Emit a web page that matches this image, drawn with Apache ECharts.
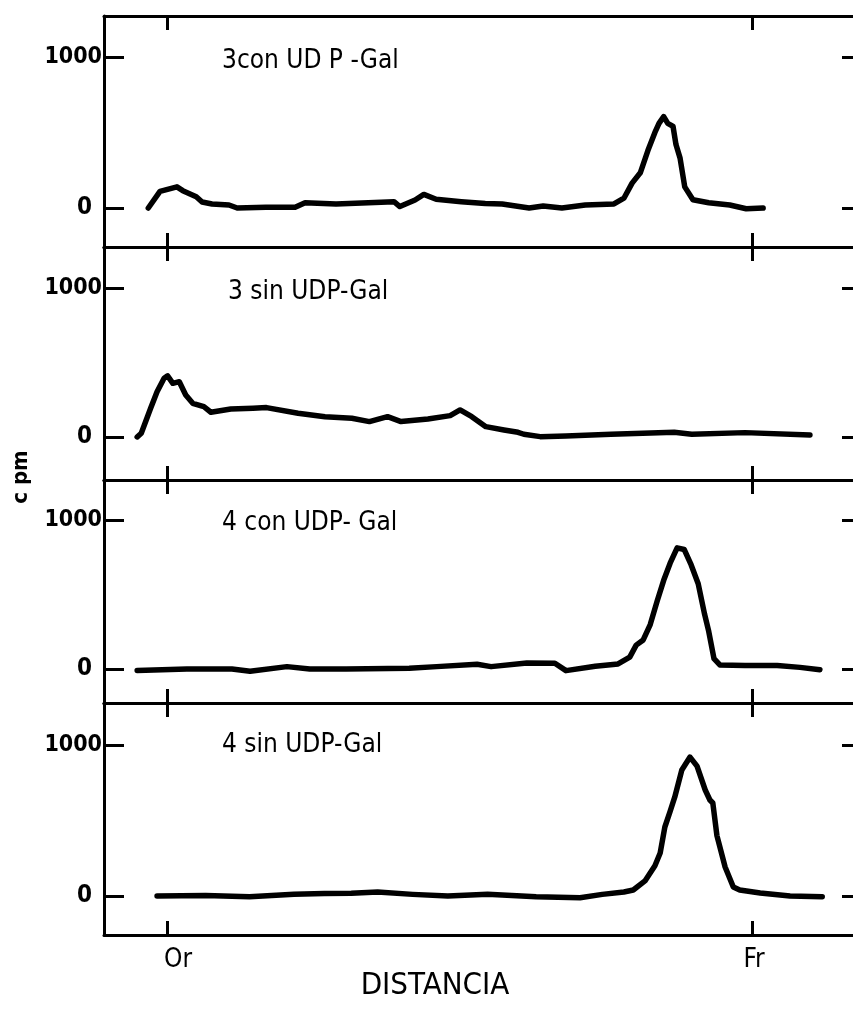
<!DOCTYPE html>
<html><head><meta charset="utf-8">
<script src="https://cdn.jsdelivr.net/npm/echarts@6/dist/echarts.min.js"></script>
<style>html,body{margin:0;padding:0;background:#fff}#c{width:853px;height:1015px}</style>
</head><body><div id="c"></div>
<script>
// ---- data (distance: Or = 0, Fr = 100; values in cpm) ----
const panelTitles = ['3con UD P -Gal', '3 sin UDP-Gal', '4 con UDP- Gal', '4 sin UDP-Gal'];
const xTickValues = [0, 100];
const xTickLabels = ['Or', 'Fr'];
const yTickValues = [0, 1000];
const yAxisName = 'c pm';
const xAxisName = 'DISTANCIA';

const dist1 = [-3.2,-1.2,1.7,2.7,5.0,6.0,7.7,10.6,12.0,16.9,21.9,23.6,28.9,38.8,39.8,42.4,43.9,46.0,50.3,54.4,57.3,61.9,64.3,67.5,71.5,76.4,78.1,79.5,80.9,82.2,83.4,84.1,84.9,85.6,86.5,87.0,87.7,88.5,89.9,92.6,96.2,99.0,101.9];
const cpm1  = [0,110,140,115,75,40,27,20,0,5,5,35,27,42,10,53,90,58,42,30,27,0,13,0,20,27,65,165,233,380,500,560,605,560,540,420,330,140,55,35,20,-5,0];

const dist2 = [-5.1,-4.4,-2.8,-1.7,-0.5,0.1,1.0,2.1,3.2,4.4,6.3,7.5,10.9,14.7,17.0,22.4,27.0,31.6,34.6,37.7,40.0,44.6,48.4,50.1,52.1,54.5,57.6,60.0,61.0,63.8,68.2,75.9,86.7,89.7,98.8,109.9];
const cpm2  = [0,25,193,304,394,410,360,371,282,226,203,166,188,193,197,159,136,125,103,136,103,121,143,181,136,69,47,31,18,2,7,18,31,18,29,13];

const dist3 = [-5.1,3.4,11.1,14.2,20.5,24.4,30.6,41.4,46.1,53.0,55.4,61.5,66.3,68.2,73.2,77.1,79.1,80.2,81.4,82.6,83.8,84.9,86.0,87.2,88.4,89.6,90.8,91.9,92.6,93.5,94.5,98.8,104.3,108.2,111.6];
const cpm3  = [-10,0,0,-15,16,0,0,5,16,32,16,41,39,-11,18,34,80,160,195,298,458,595,710,813,802,698,572,366,252,69,27,23,23,11,-5];

const dist4 = [-1.7,6.6,14.1,21.7,26.9,31.5,36.0,42.0,48.0,54.8,63.1,70.6,74.4,78.1,79.7,81.7,83.4,84.3,85.1,86.0,86.8,88.0,89.4,90.6,92.0,92.8,93.3,94.0,95.4,96.8,97.9,101.4,106.5,112.0];
const cpm4  = [0,4,-4,11,16,18,27,11,0,11,-4,-11,11,27,40,100,200,285,457,560,656,834,920,860,702,636,616,400,192,60,40,20,0,-5];

const dists = [dist1, dist2, dist3, dist4];
const cpms = [cpm1, cpm2, cpm3, cpm4];

// ---- layout ----
const FONT = 'DejaVu Sans Condensed';
const grids = [
  {top: 16, height: 231, ymin: -258, ymax: 1271, titleTop: 48},
  {top: 247, height: 233, ymin: -289, ymax: 1275, titleTop: 279},
  {top: 480, height: 223, ymin: -228, ymax: 1268, titleTop: 510},
  {top: 703, height: 232, ymin: -258, ymax: 1278, titleTop: 732}
];
const XMIN = -10.77, XMAX = 117.26;
const lineSt = {color: '#000', width: 3};

const option = {
  animation: false,
  backgroundColor: '#fff',
  grid: grids.map(g => ({left: 104, right: 0, top: g.top, height: g.height})),
  title: grids.map((g, i) => ({
    text: panelTitles[i], left: i === 1 ? 228 : 222, top: g.titleTop, padding: 0,
    textStyle: {fontFamily: FONT, fontSize: 26, fontWeight: 'normal', color: '#000'}
  })),
  xAxis: [],
  yAxis: [],
  series: [],
  graphic: [
    {type: 'text', x: 21, y: 477, rotation: Math.PI / 2,
     style: {text: yAxisName, font: 'bold 22px "' + FONT + '"', fill: '#000', textAlign: 'center', textVerticalAlign: 'middle'}},
    {type: 'text', x: 435, y: 986,
     style: {text: xAxisName, font: '31px "' + FONT + '"', fill: '#000', textAlign: 'center', textVerticalAlign: 'middle'}}
  ]
};

grids.forEach((g, i) => {
  ['bottom', 'top'].forEach(pos => {
    option.xAxis.push({
      gridIndex: i, type: 'value', min: XMIN, max: XMAX, position: pos,
      axisLine: {show: true, onZero: false, lineStyle: lineSt},
      axisTick: {show: true, inside: true, length: 14, customValues: xTickValues, lineStyle: lineSt},
      axisLabel: {show: i === 3 && pos === 'bottom', customValues: xTickValues, margin: 12,
        formatter: v => v === xTickValues[0] ? '{o|' + xTickLabels[0] + '}' : '{f|' + xTickLabels[1] + '}',
        rich: {
          o: {fontFamily: FONT, fontSize: 26, color: '#000', padding: [0, 0, 0, 22]},
          f: {fontFamily: FONT, fontSize: 26, color: '#000', padding: [0, 0, 0, 4]}
        }},
      splitLine: {show: false}
    });
  });
  option.yAxis.push({
    gridIndex: i, type: 'value', min: g.ymin, max: g.ymax, position: 'left',
    axisLine: {show: true, onZero: false, lineStyle: lineSt},
    axisTick: {show: true, inside: true, length: 20, customValues: yTickValues, lineStyle: lineSt},
    axisLabel: {show: true, customValues: yTickValues, margin: 2,
      formatter: v => v === 0 ? '{z|0}' : '{k|' + v + '}',
      rich: {
        z: {fontFamily: FONT, fontSize: 24, color: '#000', fontWeight: 'bold', padding: [0, 10, 0, 0]},
        k: {fontFamily: FONT, fontSize: 23, color: '#000', fontWeight: 'bold'}
      }},
    splitLine: {show: false}
  });
  option.yAxis.push({
    gridIndex: i, type: 'value', min: g.ymin, max: g.ymax, position: 'right',
    axisLine: {show: false, onZero: false},
    axisTick: {show: true, inside: true, length: 11, customValues: yTickValues, lineStyle: lineSt},
    axisLabel: {show: false},
    splitLine: {show: false}
  });
  option.series.push({
    type: 'line', xAxisIndex: 2 * i, yAxisIndex: 2 * i,
    data: dists[i].map((d, j) => [d, cpms[i][j]]),
    showSymbol: false, symbol: 'none', smooth: false,
    lineStyle: {color: '#000', width: 5.5, join: 'round', cap: 'round'}
  });
});

const chart = echarts.init(document.getElementById('c'), null, {renderer: 'canvas'});
chart.setOption(option);
</script>
</body></html>
